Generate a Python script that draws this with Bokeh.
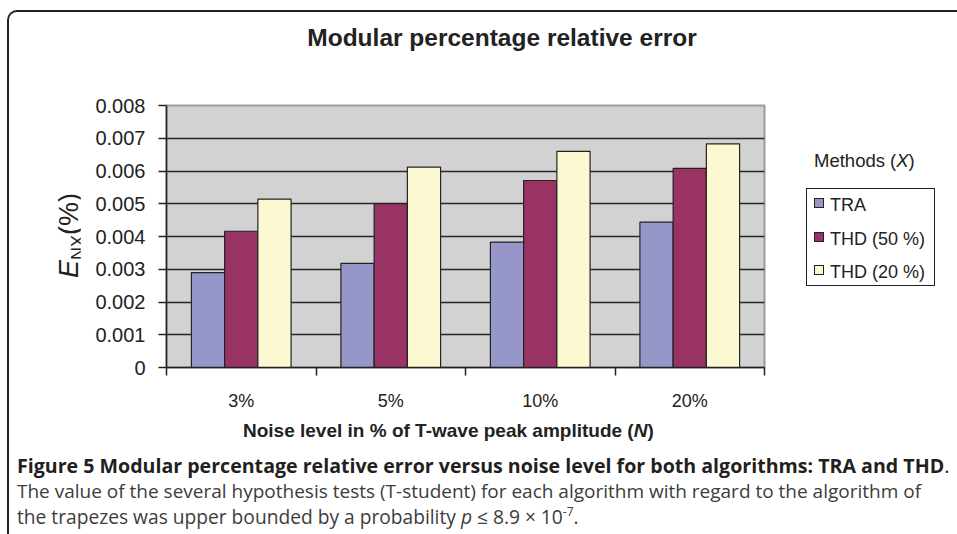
import numpy as np
from bokeh.plotting import figure
from bokeh.models import FixedTicker, NumeralTickFormatter, Range1d, Div
from bokeh.layouts import column, row
from bokeh.embed import file_html
from bokeh.resources import INLINE

# ---------------- data ----------------
categories = ["3%", "5%", "10%", "20%"]
methods = ["TRA", "THD (50 %)", "THD (20 %)"]
tra = [0.00290, 0.00318, 0.00383, 0.00444]
thd50 = [0.00416, 0.00500, 0.00571, 0.00608]
thd20 = [0.00514, 0.00612, 0.00660, 0.00683]
series = [tra, thd50, thd20]
colors = ["#9696c8", "#993366", "#fcf9d2"]
y_ticks = [0, 0.001, 0.002, 0.003, 0.004, 0.005, 0.006, 0.007, 0.008]

title_text = "Modular percentage relative error"
xlabel_html = "Noise level in % of T-wave peak amplitude (<i>N</i>)"
ylabel_html = "<i>E</i><span style='font-size:18px;position:relative;top:6px'>NX</span>(%)"
legend_title_html = "Methods (<i>X</i>)"
caption1_html = ("<b>Figure 5 Modular percentage relative error versus noise level for both "
                 "algorithms: TRA and THD</b>.")
caption2_html = ("The value of the several hypothesis tests (T-student) for each algorithm "
                 "with regard to the algorithm of")
caption3_html = ("the trapezes was upper bounded by a probability <i>p</i> &le; 8.9 &times; 10"
                 "<span style='font-size:12px;position:relative;top:-8px'>-7</span>.")

ARIAL = "Liberation Sans"
CAPF = "Open Sans"
K = {ARIAL: 0.8465, CAPF: 0.888}


def txt(x, base, html, size, font=ARIAL, weight="normal", style="normal",
        color="#222222", extra=""):
    top = base - K[font] * size
    return (f"<div style=\"position:absolute;left:{x}px;top:{top:.1f}px;"
            f"font-family:'{font}';font-size:{size}px;font-weight:{weight};"
            f"font-style:{style};color:{color};line-height:1;white-space:nowrap;{extra}\">"
            f"{html}</div>")


def block(w, h, inner):
    return Div(width=w, height=h, margin=0,
               text=f"<div style=\"position:relative;width:{w}px;height:{h}px;\">{inner}</div>")


LINE = "#222222"

# ---------------- chart ----------------
p = figure(frame_width=598, frame_height=262,
           min_border_left=86, min_border_right=2,
           min_border_top=15, min_border_bottom=48,
           x_range=Range1d(0, len(categories)), y_range=Range1d(y_ticks[0], y_ticks[-1]),
           output_backend="svg", toolbar_location=None,
           background_fill_color="#d2d2d2", border_fill_color="white", margin=0)

n = len(methods)
gap = 1.5
w = 1.0 / (n + gap)
centers = np.arange(len(categories)) + 0.5
for j, (vals, col) in enumerate(zip(series, colors)):
    xs = centers + (j - (n - 1) / 2) * w
    p.vbar(x=xs, top=vals, bottom=0, width=w, fill_color=col,
           line_color=LINE, line_width=1.2)

p.xgrid.visible = False
p.ygrid.ticker = FixedTicker(ticks=y_ticks[1:-1])
p.ygrid.grid_line_color = "#262626"
p.ygrid.grid_line_width = 1.5
p.outline_line_color = "#9a9a9a"
p.outline_line_width = 2

xa = p.xaxis[0]
xa.ticker = FixedTicker(ticks=list(centers), minor_ticks=list(range(len(categories) + 1)))
xa.major_label_overrides = {float(c): lab for c, lab in zip(centers, categories)}
xa.major_tick_out = 0
xa.major_tick_in = 0
xa.minor_tick_out = 8
xa.minor_tick_in = 0
xa.minor_tick_line_color = LINE
xa.minor_tick_line_width = 1.5
xa.axis_line_color = LINE
xa.axis_line_width = 1.5
xa.major_label_text_font = ARIAL
xa.major_label_text_font_size = "18px"
xa.major_label_text_color = LINE
xa.major_label_standoff = 15

ya = p.yaxis[0]
ya.ticker = FixedTicker(ticks=y_ticks)
ya.formatter = NumeralTickFormatter(format="0.[000]")
ya.major_tick_out = 8
ya.major_tick_in = 0
ya.major_tick_line_color = LINE
ya.major_tick_line_width = 1.5
ya.minor_tick_out = 0
ya.minor_tick_in = 0
ya.axis_line_color = LINE
ya.axis_line_width = 1.5
ya.major_label_text_font = ARIAL
ya.major_label_text_font_size = "20px"
ya.major_label_text_color = LINE
ya.major_label_standoff = 13

# ---------------- surrounding text blocks ----------------
TOP_H, MID_H, BOT_H = 90, 325, 119
YL_W, LEG_W = 80, 191

# top block: frame corner + title
top_inner = (f"<div style=\"position:absolute;left:7px;top:10px;width:950px;height:{TOP_H - 10}px;"
             f"box-sizing:border-box;border-top:2px solid {LINE};border-left:2px solid {LINE};"
             f"border-top-left-radius:10px;\"></div>"
             + txt(252, 47, title_text, 24.5, weight="bold",
                   extra="width:500px;text-align:center;"))
top_div = block(957, TOP_H, top_inner)

# y-label block (rotated text)
ysize = 27
yl_inner = (f"<div style=\"position:absolute;left:7px;top:0;width:0;height:{MID_H}px;"
            f"border-left:2px solid {LINE};\"></div>"
            f"<div style=\"position:absolute;left:{79 - K[ARIAL] * ysize:.1f}px;top:{278 - TOP_H}px;"
            f"transform-origin:0 0;transform:rotate(-90deg);font-family:'{ARIAL}';"
            f"font-size:{ysize}px;line-height:1;white-space:nowrap;color:{LINE};\">"
            f"{ylabel_html}</div>")
yl_div = block(YL_W, MID_H, yl_inner)

# legend block
LX0 = 764
leg_inner = txt(812 - LX0, 168 - TOP_H, legend_title_html, 18.5)
leg_inner += (f"<div style=\"position:absolute;left:{804 - LX0}px;top:{188 - TOP_H}px;"
              f"width:129px;height:98px;box-sizing:border-box;border:1.5px solid {LINE};"
              f"background:white;\"></div>")
row_base = [211.5, 245, 278]
for name, col, yb in zip(methods, colors, row_base):
    leg_inner += (f"<div style=\"position:absolute;left:{812 - LX0}px;top:{yb - 13.3 - TOP_H:.1f}px;"
                  f"width:10px;height:10px;box-sizing:border-box;border:1px solid {LINE};"
                  f"background:{col};\"></div>")
    leg_inner += txt(828 - LX0, yb - TOP_H, name, 18)
leg_div = block(LEG_W, MID_H, leg_inner)

# bottom block: x label + caption
B0 = TOP_H + MID_H
bot_inner = (f"<div style=\"position:absolute;left:7px;top:0;width:0;height:{BOT_H}px;"
             f"border-left:2px solid {LINE};\"></div>")
bot_inner += txt(243, 437 - B0, xlabel_html, 19, weight="bold")
bot_inner += txt(17, 473.8 - B0, caption1_html, 19.6, font=CAPF, color="#231f20")
bot_inner += txt(17, 499 - B0, caption2_html, 19.0, font=CAPF, color="#3c3c3c")
bot_inner += txt(17, 523.5 - B0, caption3_html, 19.2, font=CAPF, color="#3c3c3c")
bot_div = block(957, BOT_H, bot_inner)

root = column(top_div, row(yl_div, p, leg_div, spacing=0), bot_div, spacing=0)

open("out.html", "w").write(file_html(root, INLINE))
